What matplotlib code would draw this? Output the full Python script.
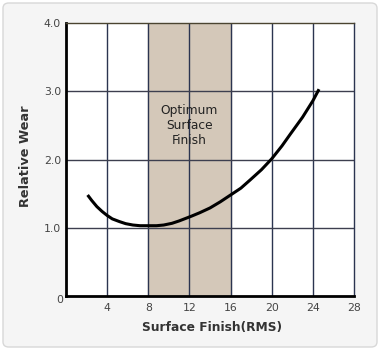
import matplotlib.pyplot as plt
from matplotlib.patches import FancyBboxPatch

# curve
finish = [2.1, 2.5, 3.0, 3.5, 4.0, 4.5, 5.2, 5.8, 6.5, 7.2, 8.0, 8.8, 9.5, 10.3, 11.0,
          12.2, 13.0, 14.0, 15.0, 16.0, 17.0, 17.9, 19.0, 20.0, 21.0, 21.8, 23.0, 24.0, 24.6]
wear = [1.48, 1.40, 1.31, 1.24, 1.18, 1.13, 1.09, 1.06, 1.04, 1.03, 1.03, 1.03, 1.04, 1.065, 1.10,
        1.17, 1.22, 1.29, 1.38, 1.48, 1.58, 1.70, 1.85, 2.01, 2.20, 2.37, 2.62, 2.86, 3.03]

x_ticks = [4, 8, 12, 16, 20, 24, 28]
y_ticks = [1, 2, 3, 4]
y_labels = ['1.0', '2.0', '3.0', '4.0']
band = (8, 16)
band_text = 'Optimum\nSurface\nFinish'

fig = plt.figure(figsize=(3.8, 3.5), dpi=100)
fig.patch.set_facecolor('white')

card = FancyBboxPatch((3 / 380, 3 / 350), 374 / 380, 344 / 350,
                      boxstyle='round,pad=0,rounding_size=0.015',
                      transform=fig.transFigure, facecolor='#f5f5f5',
                      edgecolor='#d8d8d8', linewidth=1, zorder=-10)
fig.add_artist(card)

ax = fig.add_axes([66 / 380, 1 - 296 / 350, 288 / 380, 273 / 350])
ax.set_zorder(1)
ax.set_facecolor('white')
ax.set_xlim(0, 28)
ax.set_ylim(0, 4)

ax.axvspan(band[0], band[1], color='#d4c8b9', zorder=0)
ax.text(sum(band) / 2, 2.50, band_text, ha='center', va='center',
        fontsize=8.8, color='#222222', linespacing=1.18, zorder=3)

grid_col = '#2b3450'
for x in x_ticks[:-1]:
    ax.axvline(x, color=grid_col, lw=1, zorder=1)
for y in y_ticks[:-1]:
    ax.axhline(y, color='#3d3f4f', lw=1, zorder=1)

ax.plot(finish, wear, color='black', lw=2.2, solid_capstyle='butt',
        solid_joinstyle='round', zorder=4)

ax.spines['top'].set_color('#4a4430')
ax.spines['right'].set_color(grid_col)
for s in ['top', 'right']:
    ax.spines[s].set_linewidth(1)
for s in ['left', 'bottom']:
    ax.spines[s].set_color('black')
    ax.spines[s].set_linewidth(2)

ax.set_xticks(x_ticks)
ax.set_xticklabels([str(v) for v in x_ticks])
ax.set_yticks(y_ticks)
ax.set_yticklabels(y_labels)
ax.tick_params(length=0, labelsize=7.8, colors='#444444')
ax.tick_params(axis='x', pad=5)
ax.tick_params(axis='y', pad=3.5)
ax.text(-0.6, -0.06, '0', ha='center', va='center', fontsize=7.8, color='#444444')

ax.set_xlabel('Surface Finish(RMS)', fontsize=8.8, fontweight='bold', color='#333333')
ax.set_ylabel('Relative Wear', fontsize=9.3, fontweight='bold', color='#333333')
ax.xaxis.set_label_coords(0.507, -0.117)
ax.xaxis.label.set_va('center')
ax.yaxis.set_label_coords(-0.139, 0.513)
ax.yaxis.label.set_va('center')

fig.savefig('out.png', dpi=100)
